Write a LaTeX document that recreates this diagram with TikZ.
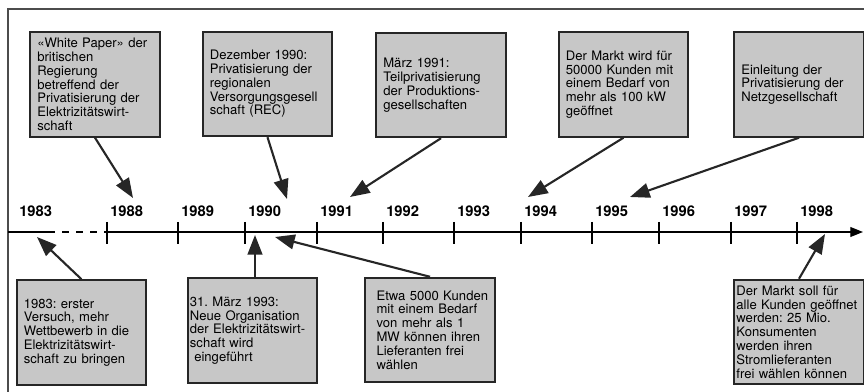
\documentclass[tikz,border=0pt]{standalone}
\usepackage{fontspec}
\setmainfont{TeX Gyre Heros}
\usetikzlibrary{arrows.meta}
\frenchspacing

\begin{document}
\begin{tikzpicture}[
    x=0.025cm, y=-0.025cm,
    >={Triangle[length=14pt,width=10.5pt]},
    font=\fontsize{9.3}{9.8}\selectfont,
    event/.style={draw=black!85, line width=1.3pt, fill=black!22, align=left,
        inner xsep=5pt, minimum height=74.4pt, text width=82pt},
    year/.style={font=\bfseries\fontsize{10.5}{12}\selectfont, anchor=base west, inner sep=0pt},
    pointer/.style={->, line width=1.5pt, black!85}
]
    \useasboundingbox (0,0) rectangle (864,392);

    % Frame
    \draw[line width=1pt, black!70] (864,9) -- (8,9) -- (8,392);

    % Events above the time line
    \node[event] (white) at (95,84.5) {«White Paper» der\\britischen\\Regierung\\betreffend der\\Privatisierung der\\Elektrizitätswirt-\\schaft};
    \node[event] (rec) at (267.5,84) {Dezember 1990:\\Privatisierung der\\regionalen\\Versorgungsgesell\\schaft (REC)};
    \node[event] (prod) at (441,85) {März 1991:\\Teilprivatisierung\\der Produktions-\\gesellschaften};
    \node[event] (markt) at (623.5,84.5) {Der Markt wird für\\50000 Kunden mit\\einem Bedarf von\\mehr als 100 kW\\geöffnet};
    \node[event] (netz) at (799,84.5) {Einleitung der\\Privatisierung der\\Netzgesellschaft};

    % Events below the time line
    \node[event] (erst) at (81.5,332.5) {1983: erster\\Versuch, mehr\\Wettbewerb in die\\Elektrizitätswirt-\\schaft zu bringen};
    \node[event, inner xsep=1.5pt, text width=89pt] (orga) at (252.5,330.5) {31. März 1993:\\Neue Organisation\\der Elektrizitätswirt-\\schaft wird\\\ eingeführt};
    \node[event, inner xsep=8pt, text width=76pt] (kunden) at (430,330) {\mbox{Etwa 5000 Kunden}\\mit einem Bedarf\\von mehr als 1\\MW können ihren\\Lieferanten frei\\wählen};
    \node[event, inner xsep=1.5pt, text width=89pt] (alle) at (799,332) {Der Markt soll für\\alle Kunden geöffnet\\werden: 25 Mio.\\Konsumenten\\werden ihren\\Stromlieferanten\\frei wählen können};

    % Time line
    \draw[line width=0.9pt] (8,232) -- (48,232);
    \draw[line width=0.9pt, dash pattern=on 5pt off 5pt] (48,232) -- (107,232);
    \draw[line width=0.9pt, -{Triangle[length=9pt,width=7pt]}] (107,232) -- (863,232);
    \node[year] (y1983) at (19,217) {1983};
    \foreach \yr/\xx in {1988/107, 1989/178, 1990/245, 1991/317, 1992/383, 1993/454,
        1994/521, 1995/592, 1996/659, 1997/731, 1998/797} {
        \draw[line width=0.9pt] (\xx,222) -- (\xx,244);
        \node[year] (y\yr) at (\xx+3,217) {\yr};
    }

    % Arrow targets
    \coordinate (p1988) at (133,198);
    \coordinate (p1990) at (287,199);
    \coordinate (p1991) at (350,197);
    \coordinate (p1994) at (528,197);
    \coordinate (p1995) at (630,197);
    \coordinate (p1983) at (37,237);
    \coordinate (p1993) at (255,235);
    \coordinate (p1992) at (275,237);
    \coordinate (p1998) at (825,234);

    % Arrows
    \draw[pointer] (white.south) -- (p1988);
    \draw[pointer] (rec.south) -- (p1990);
    \draw[pointer] (prod.south) -- (p1991);
    \draw[pointer] (markt.south) -- (p1994);
    \draw[pointer] (netz.south) -- (p1995);
    \draw[pointer] (erst.north) -- (p1983);
    \draw[pointer] (orga.north -| p1993) -- (p1993);
    \draw[pointer] (kunden.north) -- (p1992);
    \draw[pointer] (alle.north) -- (p1998);

\end{tikzpicture}
\end{document}
